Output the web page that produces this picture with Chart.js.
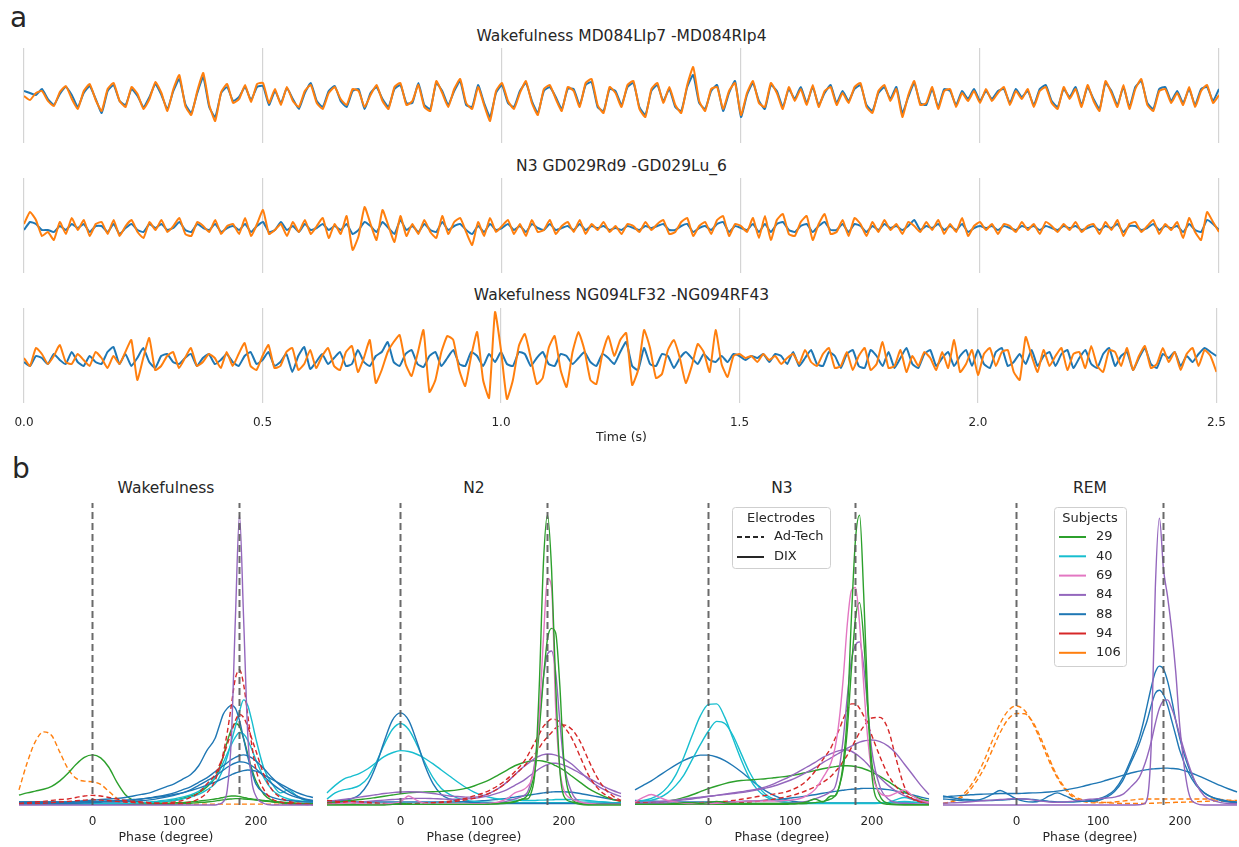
<!DOCTYPE html>
<html>
<head>
<meta charset="utf-8">
<script src="https://cdn.jsdelivr.net/npm/chart.js@4.4.1/dist/chart.umd.min.js"></script>
<style>
  body { margin: 0; background: #ffffff; width: 1239px; height: 847px; overflow: hidden; position: relative;
         font-family: 'DejaVu Sans', sans-serif; color: #262626; }
  canvas { position: absolute; }
  .lbl { position: absolute; white-space: nowrap; line-height: 1; }
</style>
</head>
<body>
<script>
'use strict';

// ---- panel a : raw traces (sampled every 12.5 ms, offsets in px-like units) ----
var sampleStep = 0.0125;
var timeTicks = [0, 0.5, 1, 1.5, 2, 2.5];
var traceTitles = ['Wakefulness MD084LIp7 -MD084RIp4', 'N3 GD029Rd9 -GD029Lu_6', 'Wakefulness NG094LF32 -NG094RF43'];

var mdOrange = [
  1,-3,4,6,-4,-9,5,11,-2,-12,6,13,-3,-14,8,14,-4,-10,10,3,
  -12,-2,15,4,-14,8,22,-9,-18,6,24,-8,-24,5,13,-6,-2,12,-5,13,
  14,-6,8,-8,10,-4,-10,6,12,-6,-12,4,10,-2,-8,8,6,-10,2,12,
  -4,-12,10,14,-8,-4,12,-10,-14,16,4,-10,8,18,-6,-12,10,-8,-24,6,
  14,-4,-12,4,16,-6,-18,8,12,-2,-14,10,6,-10,14,18,-8,-16,10,4,
  -10,12,16,-12,-20,8,14,-6,10,-8,-16,12,30,-4,-14,8,10,-12,6,14,
  -18,4,16,-6,-10,14,4,-12,10,-4,8,-8,12,-10,6,10,-8,4,-6,10,
  14,-10,-16,6,12,-4,8,-20,2,16,-8,-6,10,-12,6,8,-10,4,-4,6,
  -6,8,-4,4,10,-8,6,-2,8,-10,6,10,-6,-12,10,-2,8,-10,12,-4,
  -14,16,4,-10,12,-12,8,18,-8,-14,6,8,-6,4,-8,10,-10,6,12,-6,
  2];
var mdBlue = [
  6,4,2,8,-2,-8,3,10,2,-10,4,11,-2,-16,6,12,-4,-8,8,1,
  -10,0,13,2,-12,6,18,-7,-16,4,20,-10,-20,4,10,-4,0,10,-3,10,
  11,-8,6,-6,9,-2,-12,4,14,-4,-10,6,11,-4,-10,6,8,-12,4,10,
  -2,-10,8,12,-6,-6,14,-8,-12,14,6,-8,6,16,-8,-10,12,-6,-20,4,
  12,-6,-10,6,14,-4,-16,6,10,0,-12,8,8,-8,12,15,-10,-14,8,6,
  -8,10,14,-10,-18,6,12,-4,8,-10,-14,10,22,-6,-12,6,12,-14,4,16,
  -20,2,14,-4,-12,12,6,-10,8,-2,10,-6,10,-8,4,12,-6,6,-4,8,
  12,-8,-14,4,10,-2,10,-16,0,14,-6,-8,8,-10,8,6,-8,6,-2,8,
  -4,6,-2,6,8,-6,8,0,6,-8,8,12,-4,-10,8,0,10,-8,10,-2,
  -12,14,6,-8,10,-10,10,16,-6,-12,8,10,-4,6,-6,8,-8,8,10,-4,
  8];

var gdOrange = [
  4,16,8,-8,-4,-12,6,-6,10,-2,8,-8,4,6,-6,8,-8,2,8,-4,
  -10,6,-2,8,-4,2,10,-6,-8,6,2,-4,8,-6,2,4,-6,10,-8,4,
  18,-6,-2,4,-8,6,-4,8,-6,2,10,-10,4,-6,12,-22,-8,21,4,-12,
  18,2,-14,12,-8,4,-6,8,-4,-10,12,-6,6,10,-4,-17,6,-8,10,-4,
  2,8,-6,4,-8,8,-4,-2,8,-6,2,6,-4,8,-6,4,-2,6,-4,2,
  -6,4,2,-4,6,-2,4,8,-6,-4,6,10,-8,2,6,-6,8,12,-8,4,
  2,-4,10,-10,12,-12,8,14,-6,-8,6,12,-12,4,14,-6,-4,8,-8,10,
  4,-8,6,-4,8,-2,4,-6,6,2,-4,6,-2,8,-6,4,-4,10,-8,2,
  6,-2,4,-6,4,2,-4,6,-2,4,-6,6,2,-4,4,-2,6,-4,2,4,
  -6,6,-2,8,-8,4,6,-4,2,8,-6,4,-2,6,-10,10,-4,-12,16,6,
  -4];
var gdBlue = [
  -2,6,4,-2,-2,-4,2,-2,4,0,4,-4,2,2,-4,4,-6,0,4,-2,
  -4,4,0,4,-2,0,6,-2,-4,4,0,-2,4,-4,0,2,-2,4,-4,2,
  6,-4,-2,6,-2,2,-4,4,-2,0,4,-2,2,-2,4,-6,-2,6,2,-4,
  6,0,-6,8,-2,2,-4,4,-2,-4,6,-2,2,4,-2,-6,2,-4,4,-2,
  0,4,-2,2,-4,4,0,-2,4,-2,0,2,-2,4,-2,2,0,2,-2,0,
  -2,2,0,-2,2,0,2,4,-2,-2,2,4,-4,0,2,-2,4,6,-4,2,
  0,-2,4,-4,4,-4,4,6,-2,-4,2,4,-4,2,6,-2,-2,4,-4,4,
  2,-4,2,-2,4,0,2,-2,2,8,-2,2,0,4,-2,2,-2,4,-4,0,
  2,0,2,-2,2,0,-2,2,0,2,-2,2,0,-2,2,0,2,-2,0,2,
  -2,2,0,4,-4,2,2,-2,0,4,-2,2,0,2,-4,4,-2,-4,8,4,
  -2];

var ngOrange = [
  2,-6,12,6,-4,4,15,-2,-4,6,0,-6,8,2,-8,4,-4,8,20,-20,
  2,22,-10,-6,4,8,-8,2,12,-6,-2,6,2,-8,8,-6,6,17,-6,-10,
  4,15,-8,-6,8,12,-10,-4,10,-8,4,12,-6,-10,8,14,-12,2,20,-23,
  -10,8,18,25,-4,-16,6,30,-32,-20,8,24,20,-10,-26,4,28,-20,-38,48,
  10,-39,-20,14,26,2,-24,-18,12,24,-10,-27,8,28,10,-20,-24,6,24,4,
  20,27,-25,-10,30,12,-18,-14,10,20,2,-23,-6,16,8,-12,30,-4,-17,4,
  6,2,4,-2,6,0,4,-4,2,6,-4,10,-2,-6,6,12,-8,-6,8,-10,
  4,12,-10,-4,18,-8,-6,10,-12,4,-6,8,2,-10,8,-8,20,-12,-4,10,
  -15,6,12,-6,8,10,-12,-20,23,4,-12,10,-6,4,12,-10,6,8,-8,14,
  -6,-12,10,8,-6,12,-10,4,14,-8,-4,12,-2,8,-10,6,12,-6,10,4,
  -12];
var ngBlue = [
  -2,-6,4,2,-4,6,0,-4,8,-2,-6,4,-2,-4,8,13,-4,6,-6,2,
  12,-2,-8,4,6,-2,-4,2,6,-6,2,6,-4,0,6,-2,-6,4,8,-4,
  0,8,-6,-2,6,-12,4,13,-9,-2,6,-4,2,8,-6,-4,10,-2,-6,4,
  8,18,-2,-6,6,10,-4,-7,4,8,-6,2,10,-4,-6,8,4,-6,6,-2,
  8,-4,-6,8,6,-6,2,8,-4,-6,6,4,-4,2,8,-2,-6,6,2,-4,
  8,18,-6,-10,12,-4,-6,6,4,-8,2,8,2,-4,6,0,-2,4,-2,6,
  4,0,4,2,6,-2,6,4,-4,8,-6,2,10,-4,-6,8,4,-8,6,10,
  -6,-8,10,4,-6,8,-8,2,12,-4,-8,6,10,-6,2,8,-6,4,10,-6,
  10,-4,-8,8,12,-6,-2,6,-4,10,-6,4,8,-6,6,10,-8,2,10,-4,
  -8,6,12,-6,4,8,-10,2,12,-4,-8,6,2,8,-6,4,-2,6,12,8,
  4];

// ---- panel b : phase densities ----
var phaseGrid = [-90,-80,-70,-60,-50,-40,-30,-20,-10, 0,10,20,30,40,50,60,70,80,90,
  100,110,120,130,140,150, 155,160,165,170,175,180,185,190,195,200, 210,220,230,240,250,260,270];
var phaseTicks = [0, 100, 200];
var refPhases = [0, 180];
var stageNames = ['Wakefulness', 'N2', 'N3', 'REM'];
var subjectIds = [29, 40, 69, 84, 88, 94, 106];
var subjectElectrode = ['DIX', 'DIX', 'DIX', 'DIX', 'DIX', 'Ad-Tech', 'Ad-Tech'];
var electrodeNames = ['Ad-Tech', 'DIX'];

var wakeSubj = [84, 94, 94, 88, 88, 88, 88, 40, 40, 29, 29, 29, 106];
var wakeDens = [
  [0,0,0,0,0,0,0,0,0, 0,0,0,0,0,0,0,0,0,0, 0,0,0,0,0,0, 0.3,1,5,22,62,96,62,24,8,3, 0.5,0,0,0,0,0,0],
  [0.5,0.8,1,1.2,1.5,1.8,2,2.5,3, 3.2,3,2.5,2,1.5,1.2,1,0.8,0.6,0.5, 0.5,0.6,1,2,4,8, 12,17,24,33,42,44.7,40,30,20,12, 5,2,1,0.5,0.3,0.2,0.1],
  [0.3,0.4,0.5,0.6,0.8,1,1.2,1.4,1.6, 1.8,1.6,1.4,1.2,1,0.8,0.7,0.6,0.6,0.7, 1,1.5,2.5,4,7,10, 13,16,20,24,28,30,29,26,22,18, 10,5,2.5,1.2,0.6,0.3,0.2],
  [1,1,1,1,1,1,1,1.2,1.4, 1.6,1.8,2,2.2,2.5,3,3.5,4,5,6, 7,8.5,10,13,18,22, 26,30,32,33,32,28,22,16,11,7, 4,2.5,1.8,1.5,1.2,1,1],
  [0.8,0.8,0.8,0.8,0.8,0.8,0.9,1,1.1, 1.2,1.2,1.3,1.4,1.5,1.7,2,2.4,2.8,3.3, 4,5,6,7.5,9,11, 12,13,14,15,15.8,16.4,16.6,16.3,15.6,14.6, 12,9,6.5,4.5,3,2,1.5],
  [0.5,0.5,0.5,0.5,0.5,0.5,0.5,0.6,0.7, 0.8,0.9,1,1,1.1,1.2,1.4,1.7,2.1,2.6, 3.2,4,5,6.5,8,9.5, 10.5,11.5,12.5,13.3,13.9,14.3,14.2,13.8,13,12, 9.5,7,5,3.5,2.5,1.8,1.3],
  [1,1,1,1,1,1,1,1,1, 1.1,1.2,1.3,1.4,1.6,1.8,2,2.3,2.6,3, 3.5,4,4.8,5.6,6.6,7.6, 8.2,8.8,9.4,10,10.6,11,11.4,11.6,11.5,11.2, 10,8.5,7,5.5,4.2,3.2,2.5],
  [0.8,0.8,0.7,0.6,0.5,0.5,0.5,0.5,0.5, 0.5,0.5,0.5,0.5,0.5,0.6,0.7,0.8,1,1.2, 1.5,2,2.6,3.5,5,7, 9,12,16,21,26,31,34.8,33,28,22, 12,7,4,5,3,1.5,1],
  [0.3,0.3,0.3,0.3,0.3,0.3,0.3,0.3,0.3, 0.3,0.3,0.3,0.4,0.5,0.6,0.8,1,1.3,1.6, 2,2.6,3.3,4.5,6.5,9, 11,14,17,20,22.5,24,23.5,21.5,18.5,15, 9,5,3,2,1.5,1.2,1],
  [3.3,4,4.6,5.2,6.2,8,10.5,13.5,15.8, 16.6,15.6,12.5,7.5,3.5,1.5,0.8,0.6,0.6,0.6, 0.7,0.8,1,1.3,1.6,2, 2.2,2.5,2.8,3,3,2.8,2.5,2.2,2,1.8, 1.5,1.2,1,0.8,0.6,0.5,0.4],
  [0.3,0.3,0.3,0.3,0.3,0.3,0.3,0.3,0.3, 0.3,0.3,0.3,0.3,0.4,0.5,0.6,0.8,1,1.2, 1.6,2.2,3,4,6,9, 12,16,21,25,27,26,22,17,12,8, 3.5,1.5,0.7,0.4,0.3,0.2,0.2],
  [0.2,0.2,0.2,0.2,0.2,0.2,0.2,0.2,0.2, 0.2,0.2,0.2,0.2,0.2,0.2,0.2,0.2,0.2,0.2, 0.3,0.4,0.6,0.8,1,1.3, 1.5,1.7,1.9,2,2.1,2.1,2,1.9,1.8,1.6, 1.3,1,0.8,0.6,0.5,0.4,0.3],
  [5,14,21,24.2,23,17.5,12,8.8,7.9, 7.7,6.8,4.5,2.2,1,0.5,0.3,0.3,0.3,0.3, 0.3,0.3,0.3,0.3,0.3,0.3, 0.3,0.3,0.3,0.3,0.3,0.3,0.3,0.3,0.3,0.3, 0.3,0.3,0.3,0.4,0.5,0.5,0.5]
];

var n2Subj = [29, 69, 29, 84, 94, 94, 84, 29, 84, 88, 40, 40, 88];
var n2Dens = [
  [0,0,0,0,0,0,0,0,0.2, 0.5,0.3,0.2,0.2,0.2,0.2,0.2,0.2,0.2,0.2, 0.2,0.3,0.4,0.6,1,2, 2,4,12,40,80,96,78,40,12,3, 1,0.2,0,0,0,0,0],
  [0.2,0.3,0.5,0.8,0.5,0.3,0.2,0.3,0.5, 1,3,1.5,0.5,0.3,0.3,0.3,0.3,0.3,0.4, 0.5,0.6,1,2,4,5, 6,8,14,30,55,75,72,32,12,5, 2,1,0.5,0.3,0.2,0.2,0.2],
  [0.2,0.2,0.2,0.2,0.2,0.2,0.2,0.2,0.2, 0.2,0.2,0.2,0.2,0.2,0.2,0.2,0.2,0.2,0.2, 0.3,0.4,0.5,0.8,1.2,2, 3,6,12,25,42,55,58.5,57,40,15, 2,0.5,0.2,0.2,0.2,0.2,0.2],
  [0.2,0.2,0.2,0.2,0.2,0.2,0.2,0.2,0.2, 0.2,0.2,0.2,0.2,0.2,0.2,0.2,0.2,0.2,0.2, 0.3,0.5,0.8,1.2,2,3, 4,8,15,28,42,50,51,44,28,14, 4,1,0.4,0.2,0.2,0.2,0.2],
  [1.5,1.3,1,0.8,0.6,0.5,0.4,0.4,0.4, 0.4,0.4,0.5,0.6,0.8,1,1.3,1.7,2.2,3, 3.8,5,6.5,8.5,11,14, 16,18.5,21,23.5,26,27.5,28.5,28.3,27.5,26, 22,16,10,6,3.5,2,1.2],
  [0.5,0.7,1,1.2,1.1,0.9,0.7,0.5,0.4, 0.4,0.4,0.4,0.5,0.6,0.8,1,1.3,1.7,2.2, 3,4,5.5,7.5,10,12.5, 14,15.5,17,19,21,22.5,24,25.5,26.3,26.5, 25,21,15,9.5,5.5,3,1.5],
  [1.2,1.5,1.8,2.2,2.6,3,3.4,3.8,4.1, 4.3,4.4,4.3,4.1,3.8,3.4,3,2.8,2.6,2.6, 3,4,5.5,7.5,10,12.5, 13.5,14.5,15.5,16.2,16.7,16.9,16.8,16.5,16,15.3, 13.5,11,8.5,6.5,5,3.8,2.8],
  [0.8,1,1.2,1.5,1.8,2.1,2.5,2.9,3.3, 3.7,4,4.2,4.3,4.4,4.5,4.7,5,5.5,6.3, 7.3,8.5,10,11.5,13,14, 14.3,14.6,14.7,14.7,14.5,14.2,13.7,13,12.3,11.5, 9.5,7.5,5.5,4,2.8,1.8,1.2],
  [0.5,0.6,0.7,0.8,1,1.2,1.4,1.6,1.8, 2,2.1,2.2,2.2,2.1,2,1.9,1.9,2,2.2, 2.6,3.2,4,5,6.5,8, 9,10,11,12,12.8,13.4,13.8,13.8,13.6,13.2, 12,10.5,9,7.5,6,4.8,3.8],
  [1.3,1.4,1.5,2,3.5,7,13,21,28, 30.5,28,21,13,7,3.5,2,1.3,1,0.8, 0.7,0.6,0.5,0.5,0.5,0.5, 0.5,0.5,0.5,0.5,0.5,0.5,0.5,0.5,0.5,0.5, 0.5,0.5,0.5,0.5,0.5,0.5,0.5],
  [2,4,5,5.5,6.5,9,14,20,25, 27,25,20,14,9,5.5,3.5,2.3,1.6,1.2, 1,0.9,0.8,0.8,0.8,0.8, 0.8,0.8,0.8,0.8,0.8,0.8,0.8,0.8,0.8,0.8, 0.8,0.9,1,1,0.9,0.8,0.8],
  [4,6.5,8.5,9.5,10.5,12,14,16,17.3, 18,17.7,16.8,15.4,13.6,11.6,9.6,7.6,5.8,4.3, 3.2,2.5,2,1.8,1.6,1.5, 1.5,1.5,1.5,1.6,1.6,1.7,1.7,1.8,1.8,1.8, 1.8,1.7,1.5,1.2,1,0.8,0.6],
  [1,1,1,1,1,1,1,1,1, 1,1,1,1,1,1,1,1,1.1,1.2, 1.4,1.6,1.9,2.2,2.6,3, 3.2,3.4,3.6,3.8,4,4.2,4.3,4.4,4.4,4.4, 4.2,3.8,3.3,2.8,2.3,1.8,1.4]
];

var n3Subj = [29, 69, 29, 84, 94, 94, 84, 84, 29, 40, 40, 88, 88];
var n3Dens = [
  [0.2,0.2,0.2,0.2,0.3,0.5,0.8,0.8,0.5, 0.8,1.2,0.8,0.5,0.5,0.5,0.5,0.5,0.5,0.5, 0.5,0.6,1,2,1,3, 3,6,14,30,62,88,96,70,35,10, 1,0.2,0.1,0.1,0.1,0.1,0.1],
  [1,2.5,3.5,2.5,1.5,1,0.6,0.5,0.5, 0.5,0.6,0.8,1,1.2,1.3,1.3,1.3,1.3,1.4, 1.6,2,3,5,9,14, 19,28,42,60,71,72,60,40,22,11, 4,3,4,5,3,1.5,0.8],
  [0.2,0.2,0.2,0.2,0.2,0.2,0.2,0.2,0.2, 0.2,0.2,0.2,0.2,0.2,0.2,0.2,0.2,0.2,0.2, 0.3,0.4,0.5,0.8,1.2,2, 3,6,12,25,45,62,67,55,32,14, 3,0.6,0.2,0.1,0.1,0.1,0.1],
  [0.5,0.5,0.5,0.5,0.5,0.5,0.5,0.5,0.5, 0.5,0.5,0.5,0.5,0.5,0.5,0.5,0.5,0.5,0.5, 0.6,0.8,1.2,2,3,4.5, 6,12,22,36,48,53,54,46,32,18, 6,2,0.8,0.5,0.4,0.3,0.3],
  [1,0.8,0.6,0.5,0.5,0.5,0.6,0.7,0.8, 0.9,1,1.2,1.5,1.9,2.3,2.8,3.2,3.6,4, 4.8,6,8,11,15,19, 22,25,28.5,31.5,33.5,33.5,32,29.5,26.5,23, 16,10,6,3.5,2,1.2,0.8],
  [0.4,0.4,0.4,0.4,0.4,0.4,0.4,0.4,0.4, 0.4,0.4,0.5,0.6,0.8,1,1.2,1.5,1.9,2.4, 3,3.8,4.8,6,7.5,9.5, 11,12.5,14.5,16.5,19,21.5,24,26,27.7,28.8, 29,25,15,6,2,1,0.6],
  [0.8,0.9,1,1.2,1.4,1.7,2,2.3,2.6, 2.9,3.2,3.5,3.8,4.1,4.5,5,5.6,6.3,7.2, 8.2,9.4,10.8,12.3,14,15.6, 16.4,17.2,18,18.8,19.5,20.2,20.8,21.2,21.4,21.5, 21,19.5,17,13.5,10,6.5,3.5],
  [0.5,0.6,0.7,0.9,1.1,1.4,1.7,2,2.4, 2.8,3.2,3.6,4,4.4,4.8,5.3,6,7,8.2, 9.5,11,12.5,14,15.8,17, 17.6,18,18.3,18.2,17.8,17,16,14.8,13.4,12, 9,6.5,4.5,3,2,1.4,1],
  [0.5,0.6,0.8,1,1.3,1.8,2.5,3.4,4.4, 5.4,6.3,7.1,7.7,8.1,8.3,8.5,8.7,9,9.3, 9.7,10.2,10.8,11.4,12,12.5, 12.7,12.9,13,13,12.9,12.7,12.4,12,11.5,10.9, 9.5,7.8,6,4.4,3,2,1.3],
  [1.2,1.5,2.2,3.5,6,10,16,23,29.5, 33.3,33.5,29,22,15,9,5,2.8,1.6,1, 0.8,0.7,0.6,0.6,0.6,0.6, 0.6,0.6,0.6,0.6,0.6,0.6,0.6,0.6,0.6,0.6, 0.7,0.8,1,1.2,1,0.8,0.6],
  [1,1.2,1.6,2.4,4,6.5,10,15,20, 24.5,27.7,27,23,17,11,6.5,3.5,2,1.2, 0.8,0.6,0.5,0.5,0.5,0.5, 0.5,0.5,0.5,0.5,0.5,0.5,0.5,0.5,0.5,0.5, 0.6,0.8,1.8,2.5,1.8,1,0.6],
  [5,6.5,8,9.8,11.6,13.3,14.8,15.9,16.5, 16.5,15.9,14.7,13,11,8.8,6.6,4.7,3.2,2.1, 1.4,1,0.8,0.7,0.7,0.7, 0.7,0.7,0.7,0.7,0.7,0.7,0.7,0.7,0.7,0.7, 0.7,0.7,0.7,0.7,0.7,0.7,0.7],
  [1.5,1.4,1.3,1.2,1.1,1,1,1,1, 1,1,1,1.1,1.2,1.3,1.4,1.6,1.8,2, 2.3,2.6,3,3.4,3.9,4.3, 4.5,4.7,4.9,5.1,5.2,5.3,5.4,5.5,5.5,5.5, 5.4,5.1,4.6,4,3.3,2.6,2]
];

var remSubj = [84, 84, 88, 88, 88, 106, 106];
var remDens = [
  [0,0,0,0,0,0,0,0,0, 0,0,0,0,0,0,0,0,0,0, 0,0,0,0,0,0.1, 0.3,2,20,72,95,78,69,58,44,26, 5,0.5,0,0,0,0,0],
  [0.6,0.7,0.8,1,1.2,1.4,1.6,1.8,2, 2.1,2,1.7,1.3,1,0.9,1,1.3,1.6,1.9, 2.1,2.3,2.6,3.5,6,9, 12,16,21,27,32,34.5,34.8,32,28,23, 14,7,3,1.5,0.8,0.5,0.4],
  [3,2.5,2,1.8,1.6,1.5,1.5,1.6,1.8, 2,2,1.8,1.5,1.2,1,1,1,1.2,1.5, 2,3,5,9,15,22, 27,33,39,44,46,45,41,35,28,22, 13,7,4,2.5,1.5,1,0.8],
  [2,1.8,1.5,1.3,1.5,2.2,3.5,4.8,3.5, 2,1.2,1,1.5,3,4,3,1.8,1.2,1.2, 1.5,2.5,4.5,8,14,20, 24,28,33,37,38,36.5,33,28,23,18, 11,6.5,4,2.5,1.8,1.2,1],
  [2.6,2.9,3.1,3.3,3.5,3.6,3.7,3.8,3.8, 3.8,3.9,4,4.1,4.3,4.6,5,5.5,6.1,6.8, 7.4,8.2,9,9.8,10.6,11.2, 11.5,11.7,11.9,12,12.1,12.2,12.2,12.1,12,11.8, 11,10,8.8,7.6,6.4,5.3,4.3],
  [0.5,1.2,2.5,5,9,14.5,21,27,31.3, 32.8,31.3,27,21,14.5,9,5,2.5,1.3,0.8, 0.7,0.8,1,1.3,1.6,1.9, 2,2,2,2,2,2,2,2,2,2, 2,2,2,2,1.8,1.6,1.5],
  [0.4,1,2,4,7.5,12,18,24,28.5, 30.3,30.2,27.5,22,15.5,9.5,5.5,3,1.8,1.2, 1,0.8,0.6,0.5,0.5,0.5, 0.5,0.5,0.6,0.6,0.7,0.7,0.8,0.8,0.9,0.9, 1,1.1,1.2,1.3,1.3,1.3,1.3]
];

// ---- styling ----
var subjectColors = { 29: '#2ca02c', 40: '#17becf', 69: '#e377c2', 84: '#9467bd', 88: '#1f77b4', 94: '#d62728', 106: '#ff7f0e' };
var TEXT = '#262626';

Chart.defaults.font.family = "'DejaVu Sans', sans-serif";
Chart.defaults.color = TEXT;

function addText(txt, x, top, size, centered) {
  var d = document.createElement('div');
  d.className = 'lbl';
  d.textContent = txt;
  d.style.fontSize = size + 'px';
  d.style.top = top + 'px';
  d.style.left = x + 'px';
  if (centered) d.style.transform = 'translateX(-50%)';
  document.body.appendChild(d);
}

function addCanvas(left, top, w, h) {
  var cv = document.createElement('canvas');
  cv.width = w;
  cv.height = h;
  cv.style.left = left + 'px';
  cv.style.top = top + 'px';
  document.body.appendChild(cv);
  return cv;
}

function toPoints(values) {
  return values.map(function (v, i) { return { x: i * sampleStep, y: v }; });
}

function makeTrace(blue, orange, top, yMin, yMax, showTicks) {
  var cv = addCanvas(0, top, 1239, showTicks ? 125 : 95);
  new Chart(cv, {
    type: 'line',
    data: {
      datasets: [
        { data: toPoints(orange), borderColor: '#ff7f0e', borderWidth: 2, order: 0 },
        { data: toPoints(blue), borderColor: '#1f77b4', borderWidth: 2, order: 1 }
      ]
    },
    options: {
      responsive: false, animation: false, devicePixelRatio: 1,
      layout: { padding: { left: 24, right: 20, top: 0, bottom: 0 } },
      elements: { point: { radius: 0 }, line: { tension: 0.15 } },
      plugins: { legend: { display: false }, tooltip: { enabled: false } },
      scales: {
        x: {
          type: 'linear', min: 0, max: 2.5,
          afterBuildTicks: function (s) { s.ticks = timeTicks.map(function (v) { return { value: v }; }); },
          afterFit: function (s) { s.height = showTicks ? 30 : 0; },
          grid: { color: '#d4d4d4', lineWidth: 1.2, drawTicks: false },
          border: { display: false },
          ticks: { display: showTicks, padding: 13, color: TEXT, font: { size: 12 },
                   callback: function (v) { return Number(v).toFixed(1); } }
        },
        y: { display: false, min: yMin, max: yMax }
      }
    }
  });
}

function boxLegend(spec) {
  return {
    id: 'boxLegend',
    afterDraw: function (chart) {
      var ctx = chart.ctx;
      ctx.save();
      ctx.fillStyle = 'rgba(255,255,255,0.85)';
      ctx.strokeStyle = '#cfcfcf';
      ctx.lineWidth = 1;
      ctx.beginPath();
      ctx.roundRect(spec.x + 0.5, spec.y + 0.5, spec.w, spec.h, 3);
      ctx.fill();
      ctx.stroke();
      ctx.font = "13px 'DejaVu Sans'";
      ctx.fillStyle = TEXT;
      ctx.textBaseline = 'middle';
      ctx.textAlign = 'center';
      ctx.fillText(spec.title, spec.x + spec.w / 2, spec.y + 12);
      ctx.textAlign = 'left';
      spec.items.forEach(function (it, i) {
        var yy = spec.y + 30 + i * spec.gap;
        ctx.strokeStyle = it.color;
        ctx.lineWidth = 2;
        ctx.setLineDash(it.dash);
        ctx.beginPath();
        ctx.moveTo(spec.x + 5, yy);
        ctx.lineTo(spec.x + 32, yy);
        ctx.stroke();
        ctx.setLineDash([]);
        ctx.fillStyle = TEXT;
        ctx.fillText(it.label, spec.x + 42, yy);
      });
      ctx.restore();
    }
  };
}

var panelLefts = [19, 327, 635, 943];

function makePhase(k, subj, dens, legend) {
  var cv = addCanvas(panelLefts[k] - 6, 503, 302, 344);
  var sets = refPhases.map(function (p) {
    return { data: [{ x: p, y: 0 }, { x: p, y: 100 }], borderColor: 'rgba(90,90,90,0.9)',
             borderWidth: 2, borderDash: [7, 4], tension: 0, order: -1 };
  });
  dens.forEach(function (d, i) {
    var si = subjectIds.indexOf(subj[i]);
    sets.push({
      data: d.map(function (v, j) { return { x: phaseGrid[j], y: v }; }),
      borderColor: subjectColors[subj[i]], borderWidth: 1.4,
      borderDash: subjectElectrode[si] === 'Ad-Tech' ? [5, 3] : [],
      cubicInterpolationMode: 'monotone', clip: false
    });
  });
  new Chart(cv, {
    type: 'line',
    data: { datasets: sets },
    options: {
      responsive: false, animation: false, devicePixelRatio: 1,
      layout: { padding: { left: 6, right: 2, top: 0, bottom: 0 } },
      elements: { point: { radius: 0 } },
      plugins: { legend: { display: false }, tooltip: { enabled: false } },
      scales: {
        x: {
          type: 'linear', min: -90, max: 270,
          afterBuildTicks: function (s) { s.ticks = phaseTicks.map(function (v) { return { value: v }; }); },
          afterFit: function (s) { s.height = 42; },
          grid: { display: false, drawTicks: false },
          border: { display: false },
          ticks: { padding: 10, color: TEXT, font: { size: 12 } }
        },
        y: { display: false, min: 0, max: 100 }
      }
    },
    plugins: legend ? [boxLegend(legend)] : []
  });
  addText(stageNames[k], panelLefts[k] + 147, 481, 15.5, true);
  addText('Phase (degree)', panelLefts[k] + 147, 831, 12.5, true);
}

// panel a
addText('a', 10, 4, 28, false);
makeTrace(mdBlue, mdOrange, 48, -46, 49, false);
makeTrace(gdBlue, gdOrange, 178, -45, 50, false);
makeTrace(ngBlue, ngOrange, 308, -43, 52, true);
addText(traceTitles[0], 621.5, 29, 15.5, true);
addText(traceTitles[1], 621.5, 159, 15.5, true);
addText(traceTitles[2], 621.5, 288, 15.5, true);
addText('Time (s)', 621.5, 431, 12.5, true);

// panel b
addText('b', 12, 455, 28, false);
makePhase(0, wakeSubj, wakeDens, null);
makePhase(1, n2Subj, n2Dens, null);
makePhase(2, n3Subj, n3Dens, {
  x: 103, y: 4, w: 98, h: 61, gap: 20, title: 'Electrodes',
  items: electrodeNames.map(function (e) { return { label: e, color: TEXT, dash: e === 'Ad-Tech' ? [5, 3] : [] }; })
});
makePhase(3, remSubj, remDens, {
  x: 117, y: 4, w: 72, h: 159, gap: 19.3, title: 'Subjects',
  items: subjectIds.map(function (s) { return { label: String(s), color: subjectColors[s], dash: [] }; })
});
</script>
</body>
</html>
